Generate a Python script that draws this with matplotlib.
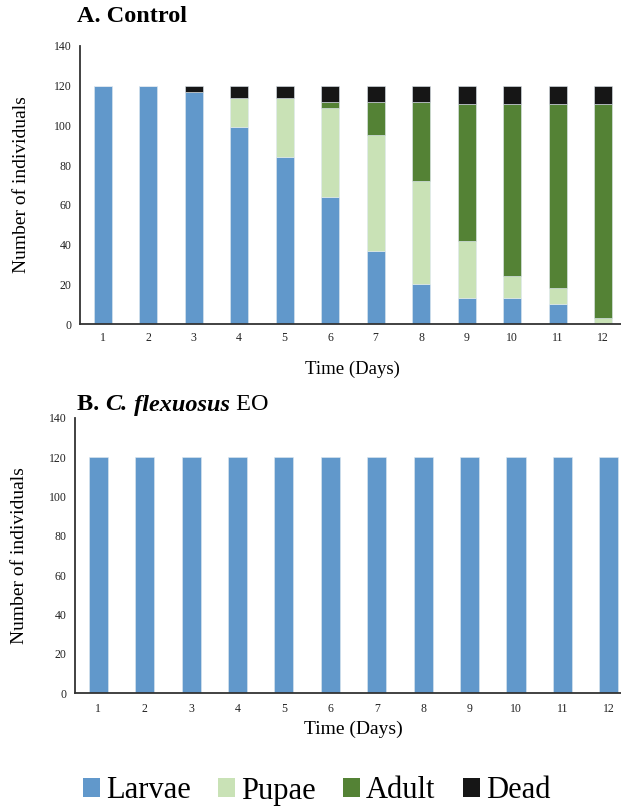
import matplotlib.pyplot as plt
from matplotlib.patches import Patch
import numpy as np

plt.rcParams['font.family'] = ['Liberation Serif', 'DejaVu Serif']

days = ['1', '2', '3', '4', '5', '6', '7', '8', '9', '10', '11', '12']

# panel A - control (counts per stage)
larvae_a = [120, 120, 117, 99, 84, 64, 37, 20, 13, 13, 10, 0]
pupae_a = [0, 0, 0, 15, 30, 45, 58, 52, 29, 11, 8, 3]
adult_a = [0, 0, 0, 0, 0, 3, 17, 40, 69, 87, 93, 108]
dead_a = [0, 0, 3, 6, 6, 8, 8, 8, 9, 9, 9, 9]

# panel B - C. flexuosus EO
larvae_b = [120, 120, 120, 120, 120, 120, 120, 120, 120, 120, 120, 120]

stages = ['Larvae', 'Pupae', 'Adult', 'Dead']
colors = ['#6198CB', '#C9E2B6', '#548235', '#161616']

fig = plt.figure(figsize=(6.21, 8.06), dpi=100)

def style(ax, lblsize, ticksize, xpad):
    ax.set_xlim(-0.5, 11.5)
    ax.set_ylim(0, 140)
    ax.set_yticks(np.arange(0, 141, 20))
    ax.set_xticks(np.arange(12))
    ax.set_xticklabels(days)
    for s in ['top', 'right']:
        ax.spines[s].set_visible(False)
    for s in ['left', 'bottom']:
        ax.spines[s].set_color('#333333')
        ax.spines[s].set_linewidth(1.3)
    ax.tick_params(length=0, labelsize=ticksize, colors='#222222')
    ax.tick_params(axis='x', pad=xpad)
    ax.tick_params(axis='y', pad=6)
    ax.set_ylabel('Number of individuals', fontsize=lblsize)

# ---- A
ax1 = fig.add_axes([0.1288, 0.598, 0.879, 0.345])
x = np.arange(12)
bottom = np.zeros(12)
for vals, c in zip([larvae_a, pupae_a, adult_a, dead_a], colors):
    ax1.bar(x, vals, 0.4, bottom=bottom, color=c, edgecolor='#dfe8f0', linewidth=0.4)
    bottom += np.array(vals)
style(ax1, 14, 8.5, 6)
ax1.set_xlabel('Time (Days)', fontsize=13.5, labelpad=12)
ax1.yaxis.set_label_coords(-0.092, 0.5)

# ---- B
ax2 = fig.add_axes([0.1208, 0.140, 0.897, 0.3414])
ax2.bar(x, larvae_b, 0.41, color=colors[0], edgecolor='#dfe8f0', linewidth=0.4)
style(ax2, 14, 8.5, 7)
ax2.set_xlabel('Time (Days)', fontsize=14, labelpad=4)
ax2.yaxis.set_label_coords(-0.085, 0.5)

# titles
fig.text(77 / 621, 1 - 17 / 806, 'A. Control', fontsize=17.5, fontweight='bold', va='center')

fig.canvas.draw()
r = fig.canvas.get_renderer()
parts = [('B. ', 'bold', 'normal'), ('C.', 'bold', 'italic'), (' flexuosus', 'bold', 'italic'), (' EO', 'normal', 'normal')]
xpos = 77 / 621
for txt, w, st in parts:
    t = fig.text(xpos, 1 - 405 / 806, txt, fontsize=17.5, fontweight=w, fontstyle=st, va='center')
    bb = t.get_window_extent(renderer=r)
    xpos += bb.width / fig.bbox.width

handles = [Patch(facecolor=c, edgecolor='none') for c in colors]
fig.legend(handles, stages, loc='center', bbox_to_anchor=(0.51, 1 - 791 / 806), ncol=4,
           frameon=False, fontsize=22, handlelength=0.55, handleheight=0.6,
           handletextpad=0.2, columnspacing=0.9)

fig.savefig('out.png', dpi=100)
